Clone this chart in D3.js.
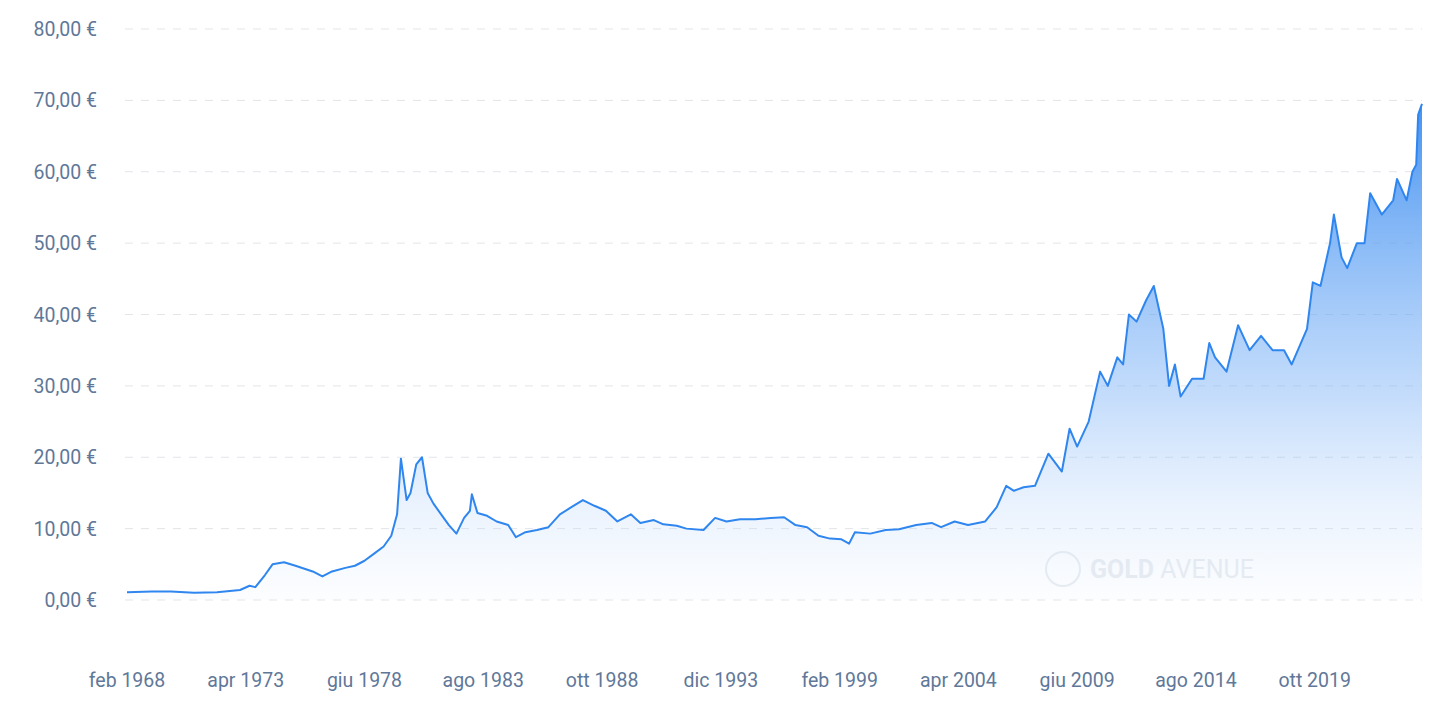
<!DOCTYPE html>
<html><head><meta charset="utf-8">
<script src="https://cdn.jsdelivr.net/npm/d3@7"></script>
<style>body{margin:0;background:#fff}text{font-family:Roboto,"Noto Sans",sans-serif}</style>
</head><body><svg width="1440" height="727"></svg>
<script>
const dates = ["1968-02","1969-03","1970-01","1971-01","1972-01","1973-01","1973-06","1973-09","1974-02","1974-06","1974-12","1975-06","1976-03","1976-08","1977-01","1977-08","1978-01","1978-06","1978-11","1979-04","1979-08","1979-11","1980-01","1980-04","1980-06","1980-09","1980-12","1981-03","1981-06","1981-10","1982-02","1982-06","1982-10","1983-01","1983-02","1983-05","1983-10","1984-03","1984-09","1985-01","1985-06","1985-12","1986-06","1986-12","1987-06","1987-12","1988-06","1988-12","1989-06","1990-01","1990-06","1991-01","1991-06","1992-01","1992-06","1993-03","1993-09","1994-03","1994-10","1995-06","1996-02","1996-09","1997-03","1997-09","1998-03","1998-09","1999-03","1999-07","1999-10","2000-06","2001-02","2001-09","2002-06","2003-02","2003-07","2004-02","2004-09","2005-06","2005-12","2006-05","2006-09","2007-02","2007-08","2008-03","2008-10","2009-02","2009-06","2009-12","2010-06","2010-10","2011-03","2011-06","2011-09","2012-01","2012-06","2012-10","2013-03","2013-06","2013-09","2013-12","2014-06","2014-12","2015-03","2015-06","2015-12","2016-06","2016-12","2017-06","2017-12","2018-06","2018-10","2019-06","2019-09","2020-01","2020-06","2020-08","2020-12","2021-03","2021-08","2021-12","2022-03","2022-09","2023-03","2023-05","2023-10","2024-01","2024-03","2024-04","2024-06"];
const values = [1.1,1.2,1.2,1.0,1.1,1.4,2.0,1.8,3.5,5.0,5.3,4.8,4.0,3.3,4.0,4.5,4.8,5.5,6.5,7.5,9.0,12.0,19.8,14.0,15.0,19.0,20.0,15.0,13.5,12.0,10.5,9.3,11.5,12.5,14.8,12.2,11.8,11.0,10.5,8.8,9.5,9.8,10.2,12.0,13.0,14.0,13.2,12.5,11.0,12.0,10.8,11.2,10.6,10.4,10.0,9.8,11.5,11.0,11.3,11.3,11.5,11.6,10.5,10.2,9.0,8.6,8.5,7.9,9.5,9.3,9.8,9.9,10.5,10.8,10.2,11.0,10.5,11.0,13.0,16.0,15.3,15.8,16.0,20.5,18.0,24.0,21.5,25.0,32.0,30.0,34.0,33.0,40.0,39.0,42.0,44.0,38.0,30.0,33.0,28.5,31.0,31.0,36.0,34.0,32.0,38.5,35.0,37.0,35.0,35.0,33.0,38.0,44.5,44.0,50.0,54.0,48.0,46.5,50.0,50.0,57.0,54.0,56.0,59.0,56.0,60.0,61.0,68.0,69.5];
const yTicks = [0,10,20,30,40,50,60,70,80];
const xTickLabels = ["feb 1968","apr 1973","giu 1978","ago 1983","ott 1988","dic 1993","feb 1999","apr 2004","giu 2009","ago 2014","ott 2019"];

const parse = d3.timeParse("%Y-%m");
const data = dates.map((d,i)=>({date:parse(d),value:values[i]}));
const svg = d3.select("svg");
const x = d3.scaleTime().domain([parse("1968-02"),parse("2024-06")]).range([127,1422]);
const y = d3.scaleLinear().domain([0,80]).range([600,29]);
const fmt = v => d3.format(".2f")(v).replace(".",",")+" €";

const defs = svg.append("defs");
const grad = defs.append("linearGradient").attr("id","g").attr("gradientUnits","userSpaceOnUse")
  .attr("x1",0).attr("x2",0).attr("y1",y(70)).attr("y2",y(0));
grad.append("stop").attr("offset","0").attr("stop-color","#3a8cf0").attr("stop-opacity",0.95);
grad.append("stop").attr("offset","0.6").attr("stop-color","#7fb4f7").attr("stop-opacity",0.45);
grad.append("stop").attr("offset","1").attr("stop-color","#dbe9fd").attr("stop-opacity",0.1);

svg.append("g").selectAll("line").data(yTicks).join("line")
  .attr("x1",125).attr("x2",1422).attr("y1",d=>y(d)).attr("y2",d=>y(d))
  .attr("stroke","#e2e5e9").attr("stroke-dasharray","8,8");
svg.append("g").selectAll("text").data(yTicks).join("text")
  .attr("x",97).attr("y",d=>y(d)+7).attr("text-anchor","end")
  .attr("fill","#5f7899").attr("font-size",19.5).text(fmt);

const tickDates = xTickLabels.map((t,i)=>d3.timeMonth.offset(parse("1968-02"),62*i));
svg.append("g").selectAll("text").data(tickDates).join("text")
  .attr("x",d=>x(d)).attr("y",687).attr("text-anchor","middle")
  .attr("fill","#5f7899").attr("font-size",19.5).text((d,i)=>xTickLabels[i]);

// watermark
const wm = svg.append("g").attr("opacity",0.5);
wm.append("circle").attr("cx",1063).attr("cy",569).attr("r",17).attr("fill","none").attr("stroke","#d5dbe3").attr("stroke-width",2);
wm.append("text").attr("x",1090).attr("y",578).attr("font-size",25).attr("fill","#d5dbe3")
  .html('<tspan font-weight="bold">GOLD</tspan> AVENUE');

svg.append("path").datum(data).attr("fill","url(#g)")
  .attr("d",d3.area().x(d=>x(d.date)).y0(y(0)).y1(d=>y(d.value)));
svg.append("path").datum(data).attr("fill","none").attr("stroke","#2f86ef").attr("stroke-width",2)
  .attr("stroke-linejoin","round").attr("d",d3.line().x(d=>x(d.date)).y(d=>y(d.value)));
</script></body></html>
